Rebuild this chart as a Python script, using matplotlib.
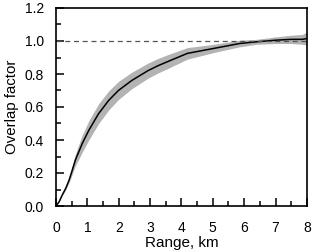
import numpy as np
import matplotlib
matplotlib.use("Agg")
from matplotlib import pyplot as plt
from matplotlib.ticker import MultipleLocator, FormatStrFormatter

# overlap factor
rng = [0.0, 0.1, 0.2, 0.31, 0.42, 0.52, 0.62, 0.73, 0.84, 1.05, 1.36, 1.68, 1.99,
       2.41, 2.93, 3.25, 3.56, 4.19, 5.03, 5.86, 6.39, 7.02, 7.5, 7.86, 8.0]
ovl = [0.0, 0.026, 0.067, 0.107, 0.158, 0.218, 0.28, 0.33, 0.38, 0.46, 0.56, 0.64, 0.70,
       0.76, 0.82, 0.85, 0.875, 0.925, 0.955, 0.985, 0.995, 1.005, 1.01, 1.01, 1.015]
# half width of the grey spread
spread = [0.0, 0.002, 0.004, 0.008, 0.015, 0.025, 0.035, 0.045, 0.052, 0.058, 0.06, 0.058, 0.055,
          0.05, 0.046, 0.044, 0.042, 0.035, 0.025, 0.02, 0.015, 0.02, 0.025, 0.03, 0.04]

plt.rcParams['font.family'] = ['Liberation Sans', 'DejaVu Sans']

fig = plt.figure(figsize=(3.2, 2.5), dpi=100)
ax = fig.add_axes([0.175, 0.176, 0.784, 0.792])

lo = np.array(ovl) - np.array(spread)
hi = np.array(ovl) + np.array(spread)
ax.fill_between(rng, lo, hi, color='#b3b3b3', lw=0)
ax.plot(rng, ovl, color='black', lw=1.1)
ax.axhline(1.0, color='#555555', lw=0.9, ls=(0, (4, 3)))

ax.set_xlim(0, 8)
ax.set_ylim(0, 1.2)
ax.xaxis.set_major_locator(MultipleLocator(1))
ax.xaxis.set_minor_locator(MultipleLocator(0.5))
ax.yaxis.set_major_locator(MultipleLocator(0.2))
ax.yaxis.set_minor_locator(MultipleLocator(0.1))
ax.yaxis.set_major_formatter(FormatStrFormatter('%.1f'))
ax.tick_params(which='both', direction='in', top=False, right=False, labelsize=10, width=1.1)
ax.tick_params(which='major', length=6)
ax.tick_params(which='minor', length=3.5)
ax.tick_params(axis='x', which='major', pad=10.5)
ax.tick_params(axis='y', which='major', pad=8.5)
for s in ax.spines.values():
    s.set_linewidth(1.2)

ax.set_xlabel('Range, km', fontsize=11, labelpad=1)
ax.set_ylabel('Overlap factor', fontsize=10.8, labelpad=4)

fig.savefig('out.png', dpi=100)
